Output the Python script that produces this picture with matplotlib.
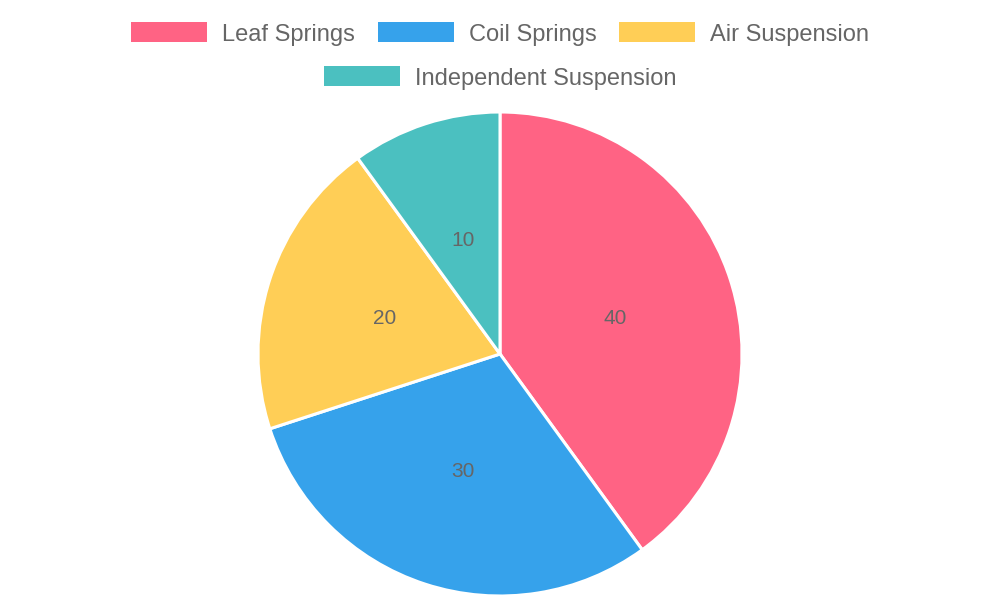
import matplotlib
matplotlib.use("Agg")
import matplotlib.pyplot as plt
from matplotlib.patches import Rectangle

# Chart data
categories = ["Leaf Springs", "Coil Springs", "Air Suspension", "Independent Suspension"]
values = [40, 30, 20, 10]
colors = ["#FF6384", "#36A2EB", "#FFCE56", "#4BC0C0"]
legend_rows = [[0, 1, 2], [3]]

plt.rcParams['font.family'] = ['Liberation Sans', 'DejaVu Sans']

W, H = 1000, 600
fig = plt.figure(figsize=(W / 100, H / 100), dpi=100)

# Pie axes: center (500, 354), radius 242 px
cx, cy, r = 500, 354, 242
ax = fig.add_axes([(cx - r) / W, (H - cy - r) / H, 2 * r / W, 2 * r / H])
wedges, texts = ax.pie(
    values,
    colors=colors,
    startangle=90,
    counterclock=False,
    labels=[str(v) for v in values],
    labeldistance=0.5,
    wedgeprops=dict(edgecolor="white", linewidth=2.2),
    textprops=dict(color="#666666", fontsize=15, ha="center", va="center_baseline"),
)
ax.set_xlim(-1, 1)
ax.set_ylim(-1, 1)
ax.set_aspect("equal")
ax.axis("off")

# Legend drawn by hand so that each row is centred like the original
box_w, box_h = 76, 20
text_gap = 15
item_gap = 23
row_y = [32, 76]
font_size = 17

renderer = fig.canvas.get_renderer()
for row, y in zip(legend_rows, row_y):
    widths = []
    for i in row:
        t = fig.text(0, 0, categories[i], fontsize=font_size)
        bb = t.get_window_extent(renderer)
        widths.append(bb.width)
        t.remove()
    total = sum(box_w + text_gap + w for w in widths) + item_gap * (len(row) - 1)
    x = (W - total) / 2
    for i, w in zip(row, widths):
        fig.patches.append(Rectangle((x / W, (H - y - box_h / 2) / H), box_w / W, box_h / H,
                                     transform=fig.transFigure, facecolor=colors[i],
                                     edgecolor="none"))
        fig.text((x + box_w + text_gap) / W, (H - y) / H, categories[i],
                 fontsize=font_size, color="#666666", ha="left", va="center_baseline")
        x += box_w + text_gap + w + item_gap

fig.savefig("out.png", dpi=100, facecolor="white")
